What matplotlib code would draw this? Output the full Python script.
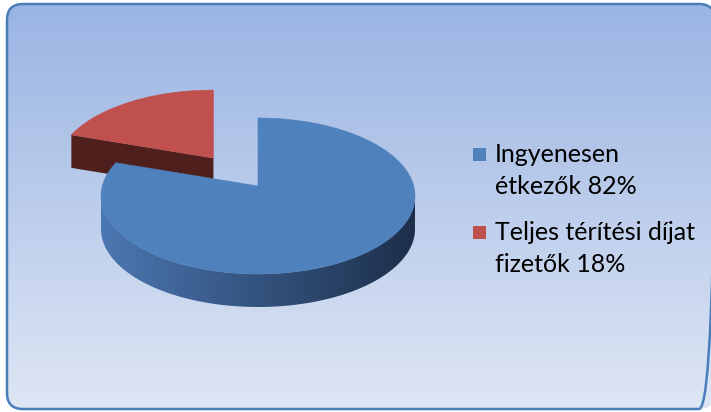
import numpy as np
import matplotlib
matplotlib.use('Agg')
import matplotlib.pyplot as plt
from matplotlib.patches import FancyBboxPatch, Polygon, Rectangle
from matplotlib.colors import LinearSegmentedColormap

# chart data
labels = ['Ingyenesen\nétkezők 82%', 'Teljes térítési díjat\nfizetők 18%']
shares = [82, 18]
explode = [0.0, 0.53]
top_colors = ['#4F81BD', '#C0504D']
side_colors = [('#4B77B2', '#1D2F4A'), ('#4F1F1E', '#4F1F1E')]

W, H = 711, 412
fig = plt.figure(figsize=(W / 100, H / 100), dpi=100)
ax = fig.add_axes([0, 0, 1, 1])
ax.set_xlim(0, W)
ax.set_ylim(H, 0)
ax.axis('off')

# rounded frame with vertical gradient
frame = FancyBboxPatch((7, 4), 708, 405, boxstyle='round,pad=0,rounding_size=16',
                       facecolor='none', edgecolor='#4A7EBB', lw=1.8, zorder=10)
ax.add_patch(frame)
bg_cmap = LinearSegmentedColormap.from_list('bg', ['#9AB4E3', '#DEE6F4'])
bg = ax.imshow(np.linspace(0, 1, 256).reshape(-1, 1), cmap=bg_cmap,
               extent=(7, 715, 409, 4), aspect='auto', zorder=0)
bg.set_clip_path(frame)

# 3d pie geometry (pixel space)
cx, cy = 258, 196
a, b = 157, 78
lift = 10      # perspective: apex sits above the ellipse centre
depth = 33
y_squash = 0.8  # explosion looks shorter going back


def rim(t, ox, oy, dz=0.0):
    return np.column_stack([cx + ox + a * np.cos(t), cy + oy - b * np.sin(t) + dz])


def gradient_fill(poly, c_left, c_right, z):
    xs = poly.get_xy()[:, 0]
    ys = poly.get_xy()[:, 1]
    cmap = LinearSegmentedColormap.from_list('side', [c_left, c_right])
    im = ax.imshow(np.linspace(0, 1, 256).reshape(1, -1), cmap=cmap,
                   extent=(xs.min(), xs.max(), ys.max(), ys.min()),
                   aspect='auto', zorder=z)
    im.set_clip_path(poly)


fractions = np.array(shares) / sum(shares)
edges = np.deg2rad(90 - 360 * np.concatenate([[0], np.cumsum(fractions)]))

# draw back slices first
order = sorted(range(len(shares)), key=lambda i: -np.sin((edges[i] + edges[i + 1]) / 2))
for z, i in enumerate(order):
    t_hi, t_lo = edges[i], edges[i + 1]
    mid = (t_hi + t_lo) / 2
    ox = explode[i] * a * np.cos(mid)
    oy = -explode[i] * b * np.sin(mid) * y_squash
    apex = np.array([cx + ox, cy + oy - lift])
    base_z = 2 + z * 5

    # radial faces facing the viewer
    for t_e, sgn in [(t_hi, 1), (t_lo, -1)]:
        away = sgn * np.cos(t_e)
        if away < -1e-6:
            p = rim(np.array([t_e]), ox, oy)[0]
            quad = [apex, p, p + [0, depth], apex + [0, depth]]
            ax.add_patch(Polygon(quad, closed=True, facecolor=side_colors[i][1],
                                 edgecolor='none', zorder=base_z))

    # outer wall, front half only
    ts = np.linspace(t_lo, t_hi, 400)
    front = ts[np.sin(ts) < 0]
    if len(front) > 1:
        wall = np.vstack([rim(front, ox, oy), rim(front[::-1], ox, oy, depth)])
        wall_patch = Polygon(wall, closed=True, facecolor='none', edgecolor='none',
                             zorder=base_z + 1)
        ax.add_patch(wall_patch)
        gradient_fill(wall_patch, side_colors[i][0], side_colors[i][1], base_z + 1)

    # top face
    top = np.vstack([apex, rim(ts, ox, oy)])
    ax.add_patch(Polygon(top, closed=True, facecolor=top_colors[i],
                         edgecolor=top_colors[i], lw=0.4, zorder=base_z + 2))

# legend
leg_x, leg_y = 473, 162
item_gap, line_gap = 78, 31.5
for i, lab in enumerate(labels):
    base = leg_y + i * item_gap
    ax.add_patch(Rectangle((leg_x, base - 14), 13, 13, facecolor=top_colors[i],
                           edgecolor='none', zorder=20))
    for j, line in enumerate(lab.split('\n')):
        ax.text(leg_x + 22, base + j * line_gap, line, family='Lato', fontsize=18,
                color='#000000', va='baseline', ha='left', zorder=20)

fig.savefig('out.png', dpi=100)
